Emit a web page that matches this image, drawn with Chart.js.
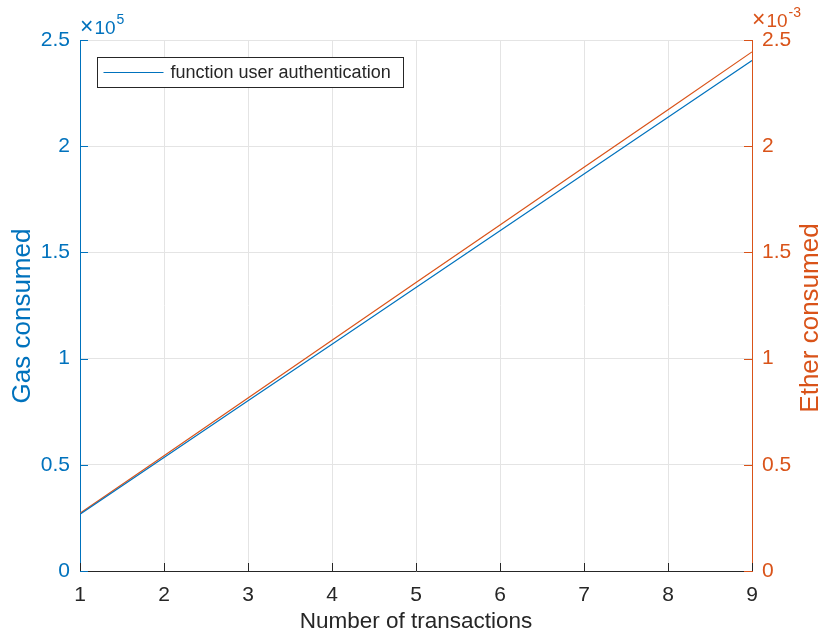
<!DOCTYPE html>
<html>
<head>
<meta charset="utf-8">
<script src="https://cdn.jsdelivr.net/npm/chart.js@4"></script>
<style>
  html, body { margin: 0; padding: 0; background: #fff; }
  #wrap { width: 820px; height: 635px; }
</style>
</head>
<body>
<div id="wrap"><canvas id="chart" width="820" height="635"></canvas></div>
<script>
const transactions = [1, 2, 3, 4, 5, 6, 7, 8, 9];
const gasConsumed = [26700, 53400, 80100, 106800, 133500, 160200, 186900, 213600, 240300];
const etherConsumed = [0.000272, 0.000543, 0.000815, 0.001086, 0.001358, 0.001629, 0.001901, 0.002172, 0.002444];
const legendLabel = 'function user authentication';
const gasTitle = 'Gas consumed';
const etherTitle = 'Ether consumed';

const blue = 'rgb(0,114,189)';
const orange = 'rgb(217,83,25)';
const dark = '#262626';
const gridGray = '#e4e4e4';
const fontFamily = '"Liberation Sans", Arial, Helvetica, sans-serif';

// inward tick marks, y titles, exponent labels and the legend box, MATLAB style
const matlabBits = {
  id: 'matlabBits',
  afterDraw(chart) {
    const ctx = chart.ctx;
    const area = chart.chartArea;
    const x = chart.scales.x, yl = chart.scales.yGas, yr = chart.scales.yEther;
    const len = 8;
    ctx.save();
    ctx.lineWidth = 1;

    ctx.strokeStyle = dark;
    x.ticks.forEach((t) => {
      const px = Math.round(x.getPixelForValue(t.value)) + 0.5;
      ctx.beginPath(); ctx.moveTo(px, area.bottom); ctx.lineTo(px, area.bottom - len); ctx.stroke();
    });
    ctx.strokeStyle = blue;
    yl.ticks.forEach((t) => {
      const py = Math.round(yl.getPixelForValue(t.value)) + 0.5;
      ctx.beginPath(); ctx.moveTo(area.left, py); ctx.lineTo(area.left + len, py); ctx.stroke();
    });
    ctx.strokeStyle = orange;
    yr.ticks.forEach((t) => {
      const py = Math.round(yr.getPixelForValue(t.value)) + 0.5;
      ctx.beginPath(); ctx.moveTo(area.right, py); ctx.lineTo(area.right - len, py); ctx.stroke();
    });

    // y axis titles, both read bottom to top
    function yTitle(text, cx, cy, color) {
      ctx.save();
      ctx.translate(cx, cy);
      ctx.rotate(-Math.PI / 2);
      ctx.fillStyle = color;
      ctx.font = '26px ' + fontFamily;
      ctx.textAlign = 'center';
      ctx.textBaseline = 'middle';
      ctx.fillText(text, 0, 0);
      ctx.restore();
    }
    yTitle(gasTitle, 23, 316, blue);
    yTitle(etherTitle, 811, 318, orange);

    // exponent labels
    ctx.textBaseline = 'alphabetic';
    ctx.textAlign = 'left';
    function expo(x0, base, sup, color) {
      ctx.fillStyle = color;
      ctx.font = '23px ' + fontFamily;
      ctx.fillText('\u00d7', x0, base);
      const w1 = ctx.measureText('\u00d7').width;
      ctx.font = '19px ' + fontFamily;
      ctx.fillText('10', x0 + w1 + 1, base);
      const w2 = ctx.measureText('10').width;
      ctx.font = '14px ' + fontFamily;
      ctx.fillText(sup, x0 + w1 + 1 + w2 + 1, base - 10);
    }
    expo(area.left, 34, '5', blue);
    expo(area.right, 27, '-3', orange);

    // legend
    const bx = 97.5, by = 57.5, bw = 306, bh = 30;
    ctx.fillStyle = '#fff';
    ctx.fillRect(bx, by, bw, bh);
    ctx.strokeStyle = dark;
    ctx.strokeRect(bx, by, bw, bh);
    ctx.strokeStyle = blue;
    ctx.lineWidth = 1.2;
    ctx.beginPath(); ctx.moveTo(bx + 6, by + 15); ctx.lineTo(bx + 66, by + 15); ctx.stroke();
    ctx.fillStyle = dark;
    ctx.font = '18px ' + fontFamily;
    ctx.textBaseline = 'middle';
    ctx.fillText(legendLabel, bx + 73, by + 16);
    ctx.restore();
  }
};

function fmt(v) {
  return parseFloat(v.toFixed(2)).toString();
}

new Chart(document.getElementById('chart'), {
  type: 'line',
  data: {
    datasets: [{
      label: legendLabel,
      data: transactions.map((t, i) => ({ x: t, y: gasConsumed[i] })),
      yAxisID: 'yGas',
      borderColor: blue,
      borderWidth: 1.2,
      pointRadius: 0,
      fill: false
    }, {
      label: 'ether',
      data: transactions.map((t, i) => ({ x: t, y: etherConsumed[i] })),
      yAxisID: 'yEther',
      borderColor: orange,
      borderWidth: 1.2,
      pointRadius: 0,
      fill: false
    }]
  },
  options: {
    responsive: false,
    animation: false,
    layout: { padding: { top: 40, left: 0, right: 0, bottom: 0 } },
    plugins: { legend: { display: false }, tooltip: { enabled: false } },
    scales: {
      x: {
        type: 'linear',
        min: 1, max: 9,
        ticks: { stepSize: 1, padding: 12, color: dark, font: { family: fontFamily, size: 21 } },
        grid: {
          drawTicks: false,
          color: (c) => (c.tick && (c.tick.value === 1 || c.tick.value === 9)) ? 'rgba(0,0,0,0)' : gridGray
        },
        border: { color: dark, width: 1 },
        title: {
          display: true, text: 'Number of transactions', color: dark,
          font: { family: fontFamily, size: 22.5, lineHeight: 1 }, padding: { top: 0, bottom: 1.5 }
        },
        afterFit: (s) => { s.height = 64; }
      },
      yGas: {
        type: 'linear',
        position: 'left',
        min: 0, max: 250000,
        ticks: { stepSize: 50000, padding: 10, color: blue, font: { family: fontFamily, size: 21 },
          callback: (v) => fmt(v / 1e5) },
        grid: {
          drawTicks: false,
          color: (c) => (c.tick && c.tick.value === 0) ? 'rgba(0,0,0,0)' : gridGray
        },
        border: { color: blue, width: 1 },
        afterFit: (s) => { s.width = 80; }
      },
      yEther: {
        type: 'linear',
        position: 'right',
        min: 0, max: 0.0025,
        ticks: { stepSize: 0.0005, padding: 10, color: orange, font: { family: fontFamily, size: 21 },
          callback: (v) => fmt(v * 1e3) },
        grid: { drawTicks: false, drawOnChartArea: false },
        border: { color: orange, width: 1 },
        afterFit: (s) => { s.width = 68; }
      }
    }
  },
  plugins: [matlabBits]
});
</script>
</body>
</html>
